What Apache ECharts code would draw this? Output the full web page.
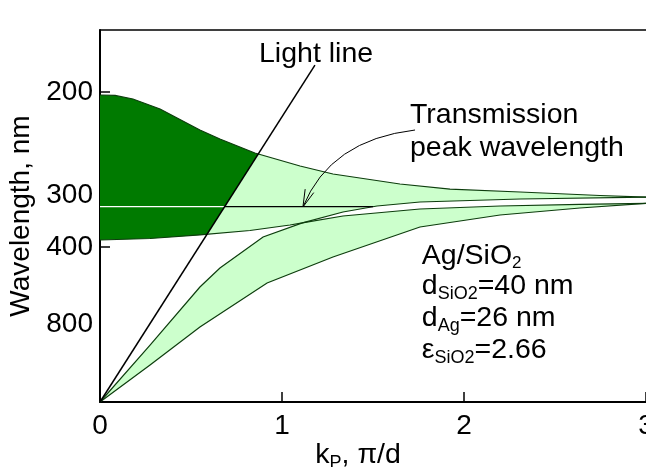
<!DOCTYPE html>
<html><head><meta charset="utf-8">
<script src="https://cdn.jsdelivr.net/npm/echarts@6/dist/echarts.min.js"></script>
<style>html,body{margin:0;padding:0;background:#fff}#c{width:646px;height:467px}</style>
</head><body><div id="c"></div>
<script>
// Tick labels
const yTickLabels = [200, 300, 400, 800];          // wavelength, nm (axis linear in 1000/λ)
const yTickMarks = [200, 300, 400];
const xTickLabels = [0, 1, 2, 3];

// Band edges: in-plane k (π/d) and frequency 1000/λ (1/μm)
const upperTopK = [0, 0.083, 0.181, 0.330, 0.549, 0.659, 0.851, 1.099, 1.280, 1.648, 1.923, 2.308, 2.747, 3.0];
const upperTopF = [4.952, 4.944, 4.887, 4.726, 4.387, 4.242, 4.016, 3.806, 3.677, 3.516, 3.435, 3.387, 3.331, 3.306];
const upperBotK = [0, 0.275, 0.549, 0.824, 1.044, 1.112, 1.335, 1.522, 1.758, 2.308, 3.0];
const upperBotF = [2.613, 2.637, 2.694, 2.766, 2.855, 2.89, 3.065, 3.161, 3.226, 3.274, 3.306];
const lowerTopK = [0, 0.275, 0.549, 0.659, 0.896, 1.112, 1.335, 1.758, 2.198, 2.637, 3.0];
const lowerTopF = [0, 0.919, 1.855, 2.161, 2.661, 2.89, 3.0, 3.113, 3.161, 3.189, 3.205];
const lowerBotK = [0, 0.275, 0.549, 0.918, 1.280, 1.758, 2.198, 2.637, 3.0];
const lowerBotF = [0, 0.597, 1.21, 1.919, 2.339, 2.823, 3.016, 3.129, 3.205];
const lightLineK = [0, 1.181];
const lightLineF = [0, 5.435];
const peakF = 3.15;   // transmission peak (≈317 nm)

// Annotation anchors (data coords)
const lightLabel = [1.187, 5.45];
const peakLabel = [1.703, 3.935];
const arrowStart = [1.731, 4.387];
const arrowCtrl = [1.264, 4.226];
const arrowTip = [1.115, 3.145];
const infoAnchor = [1.768, 2.194];
const xNameAnchor = [1.418];

const FONT = '"Liberation Sans", Arial, Helvetica, sans-serif';
const mctx = document.createElement('canvas').getContext('2d');
function tw(t, s) { mctx.font = s + 'px ' + FONT; return mctx.measureText(t).width; }
function runs(x, baseline, parts, align) {
  let total = 0;
  parts.forEach(p => total += tw(p[0], p[1]));
  let cx = align === 'center' ? x - total / 2 : x;
  const out = [];
  parts.forEach(([t, s, dy]) => {
    out.push({ type: 'text', style: { text: t, x: cx, y: baseline + dy - 0.3465 * s,
      font: s + 'px ' + FONT, fill: '#000', align: 'left', verticalAlign: 'middle' } });
    cx += tw(t, s);
  });
  return out;
}
function crossLine(K, F, s) {
  for (let i = 0; i < K.length - 1; i++) {
    const g0 = F[i] - s * K[i], g1 = F[i + 1] - s * K[i + 1];
    if (g0 === 0) return { i, p: [K[i], F[i]] };
    if (g0 * g1 < 0) { const t = g0 / (g0 - g1); return { i, p: [K[i] + t * (K[i + 1] - K[i]), F[i] + t * (F[i + 1] - F[i])] }; }
  }
  return null;
}
function crossLevel(K, F, lv) {
  for (let i = 0; i < K.length - 1; i++) {
    if ((F[i] - lv) * (F[i + 1] - lv) <= 0) { const t = (lv - F[i]) / (F[i + 1] - F[i]); return K[i] + t * (K[i + 1] - K[i]); }
  }
  return K[K.length - 1];
}

function renderItem(params, api) {
  const c = d => api.coord(d);
  const pts = (K, F) => K.map((k, i) => c([k, F[i]]));
  const EDGE = '#0d3d0d';
  const kids = [];
  const uT = pts(upperTopK, upperTopF), uB = pts(upperBotK, upperBotF);
  const lT = pts(lowerTopK, lowerTopF), lB = pts(lowerBotK, lowerBotF);
  kids.push({ type: 'polygon', shape: { points: uT.concat(uB.slice().reverse()) }, style: { fill: '#ccffcc', stroke: null } });
  kids.push({ type: 'polygon', shape: { points: lT.concat(lB.slice().reverse()) }, style: { fill: '#ccffcc', stroke: null } });
  const s = lightLineF[1] / lightLineK[1];
  const x1 = crossLine(upperTopK, upperTopF, s), x2 = crossLine(upperBotK, upperBotF, s);
  const dark = [];
  for (let i = 0; i <= x1.i; i++) dark.push(uT[i]);
  dark.push(c(x1.p)); dark.push(c(x2.p));
  for (let i = x2.i; i >= 0; i--) dark.push(uB[i]);
  kids.push({ type: 'polygon', shape: { points: dark }, style: { fill: '#007a00', stroke: null } });
  [uT, uB, lT, lB].forEach(p => kids.push({ type: 'polyline', shape: { points: p }, style: { stroke: EDGE, lineWidth: 1.2, fill: null } }));
  const kL = peakF / s, kE = crossLevel(upperBotK, upperBotF, peakF);
  const p0 = c([0, peakF]), pL = c([kL, peakF]), pE = c([kE, peakF]);
  kids.push({ type: 'line', shape: { x1: p0[0], y1: p0[1], x2: pL[0], y2: pL[1] }, style: { stroke: '#ffffff', lineWidth: 1.3 } });
  kids.push({ type: 'line', shape: { x1: pL[0], y1: pL[1], x2: pE[0], y2: pE[1] }, style: { stroke: '#000', lineWidth: 1.3 } });
  kids.push({ type: 'polyline', shape: { points: pts(lightLineK, lightLineF) }, style: { stroke: '#000', lineWidth: 1.5, fill: null } });
  const a0 = c(arrowStart), ac = c(arrowCtrl), at = c(arrowTip);
  kids.push({ type: 'bezierCurve', shape: { x1: a0[0], y1: a0[1], cpx1: ac[0], cpy1: ac[1], x2: at[0], y2: at[1] }, style: { stroke: '#000', lineWidth: 1, fill: null } });
  let dx = at[0] - ac[0], dy = at[1] - ac[1]; const dl = Math.hypot(dx, dy); dx /= dl; dy /= dl;
  const L = 18, ang = 0.26;
  const h1 = [at[0] - L * (dx * Math.cos(ang) - dy * Math.sin(ang)), at[1] - L * (dy * Math.cos(ang) + dx * Math.sin(ang))];
  const h2 = [at[0] - L * (dx * Math.cos(-ang) - dy * Math.sin(-ang)), at[1] - L * (dy * Math.cos(-ang) + dx * Math.sin(-ang))];
  kids.push({ type: 'polyline', shape: { points: [h1, at, h2] }, style: { stroke: '#000', lineWidth: 1, fill: null } });
  const FS = 28.5;
  const ll = c(lightLabel);
  runs(ll[0], ll[1], [['Light line', FS, 0]], 'center').forEach(e => kids.push(e));
  const pl = c(peakLabel);
  runs(pl[0], pl[1] - 33, [['Transmission', FS, 0]]).forEach(e => kids.push(e));
  runs(pl[0], pl[1], [['peak wavelength', FS, 0]]).forEach(e => kids.push(e));
  const ia = c(infoAnchor);
  runs(ia[0], ia[1], [['Ag/SiO', FS, 0], ['2', 17, 3]]).forEach(e => kids.push(e));
  runs(ia[0], ia[1] + 30, [['d', FS, 0], ['SiO2', 18, 4], ['=40 nm', FS, 0]]).forEach(e => kids.push(e));
  runs(ia[0], ia[1] + 62, [['d', FS, 0], ['Ag', 18, 4], ['=26 nm', FS, 0]]).forEach(e => kids.push(e));
  runs(ia[0], ia[1] + 94, [['ε', FS, 0], ['SiO2', 18, 4], ['=2.66', FS, 0]]).forEach(e => kids.push(e));
  const xn = c([xNameAnchor[0], 0]);
  runs(xn[0], xn[1] + 63, [['k', FS, 0], ['P', 18, 4], [', π/d', FS, 0]], 'center').forEach(e => kids.push(e));
  return { type: 'group', children: kids };
}

const yVals = yTickLabels.map(l => 1000 / l);
const chart = echarts.init(document.getElementById('c'));
chart.setOption({
  animation: false,
  grid: { left: 100, top: 30, width: 546, height: 372, show: false, containLabel: false, outerBoundsMode: 'none' },
  xAxis: [{
    type: 'value', min: 0, max: 3, interval: 1,
    axisLine: { show: true, onZero: false, lineStyle: { color: '#000', width: 2 } },
    axisTick: { show: true, inside: true, length: 10, lineStyle: { color: '#000', width: 1.5 } },
    axisLabel: { show: true, margin: 10, fontSize: 28, fontFamily: FONT, color: '#000',
      customValues: xTickLabels, formatter: v => String(Math.round(v)), showMaxLabel: true, hideOverlap: false },
    splitLine: { show: false }
  }, {
    type: 'value', min: 0, max: 3, position: 'top',
    axisLine: { show: true, onZero: false, lineStyle: { color: '#000', width: 1.5 } },
    axisTick: { show: false }, axisLabel: { show: false }, splitLine: { show: false }
  }],
  yAxis: {
    type: 'value', min: 0, max: 6.0,
    name: 'Wavelength, nm', nameLocation: 'middle', nameGap: 62,
    nameTextStyle: { fontSize: 28, fontFamily: FONT, color: '#000' },
    axisLine: { show: true, onZero: false, lineStyle: { color: '#000', width: 2 } },
    axisTick: { show: true, inside: true, length: 10, customValues: yTickMarks.map(l => 1000 / l), lineStyle: { color: '#000', width: 1.5 } },
    axisLabel: { show: true, margin: 7, fontSize: 28, fontFamily: FONT, color: '#000', padding: [6, 0, 0, 0],
      customValues: yVals, formatter: v => String(Math.round(1000 / v)) },
    splitLine: { show: false }
  },
  series: [{ type: 'custom', coordinateSystem: 'cartesian2d', xAxisIndex: 0, yAxisIndex: 0, renderItem, data: [[0, 0]], silent: true, clip: false }]
});
</script></body></html>
